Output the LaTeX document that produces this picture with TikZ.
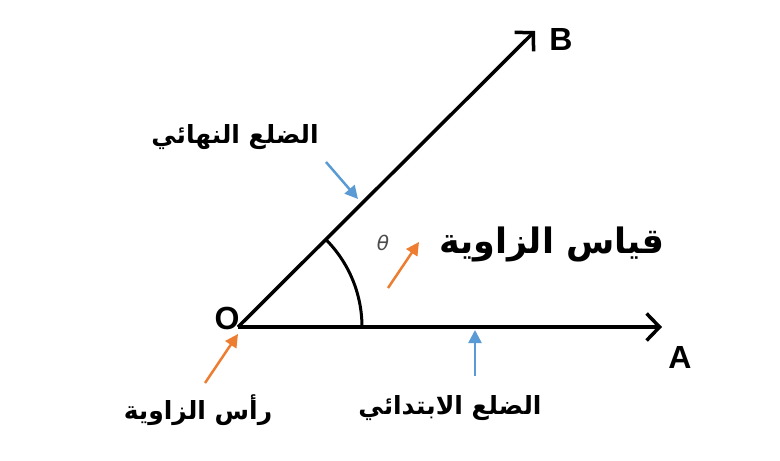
\documentclass[tikz,border=0pt]{standalone}
\usepackage{fontspec}
\setmainfont{Liberation Sans}
\newfontfamily\arabicfont[Script=Arabic]{DejaVu Sans}
\newfontfamily\greekfont{DejaVu Sans}
\TeXXeTstate=1
\usetikzlibrary{arrows.meta}
\definecolor{lblue}{RGB}{91,155,213}
\definecolor{lorange}{RGB}{237,125,49}
\tikzset{
  ray/.style={line width=3.5pt, -{Straight Barb[length=13pt,width=27pt,line width=3.5pt]}},
  bluearrow/.style={lblue, line width=2.5pt, -{Triangle[length=13pt,width=13pt]}},
  orangearrow/.style={lorange, line width=2.5pt, -{Triangle[length=13pt,width=13pt]}},
  letter/.style={font=\fontsize{32}{34}\selectfont\bfseries, inner sep=0pt},
  artext/.style={font=\arabicfont\bfseries\fontsize{25}{28}\selectfont, inner sep=0pt},
}
\begin{document}
\begin{tikzpicture}[x=1pt,y=-1pt]
\useasboundingbox (0,0) rectangle (780,461);
\coordinate (O) at (238,327);
\coordinate (Aend) at (662,327);
\coordinate (Bend) at (535,31);
\draw[ray] (O) -- (Aend);
\draw[ray] (O) -- (Bend);
\draw[line width=3pt] (362,327) arc[start angle=0, end angle=-45, radius=124];
\node[letter] (lO) at (227,318) {O};
\node[letter] (lA) at (680,357) {A};
\node[letter] (lB) at (561,39) {B};
\node[font=\greekfont\itshape\fontsize{20}{24}\selectfont, text=black!70, inner sep=0pt] (th) at (383,243) {θ};
% labels
\node[artext] (term) at (235,137) {\beginR الضلع النهائي\endR};
\node[artext] (init) at (450,408) {\beginR الضلع الابتدائي\endR};
\node[artext] (vert) at (198,410) {\beginR رأس الزاوية\endR};
\node[font=\arabicfont\bfseries\fontsize{35}{40}\selectfont, inner sep=0pt] (meas) at (552,244) {\beginR قياس الزاوية\endR};
% arrows
\coordinate (t1) at (326,162);
\coordinate (t2) at (358,199);
\draw[bluearrow] (t1) -- (t2);
\coordinate (i1) at (475,376);
\coordinate (i2) at (475,330);
\draw[bluearrow] (i1) -- (i2);
\coordinate (v1) at (205,383);
\coordinate (v2) at (238,334);
\draw[orangearrow] (v1) -- (v2);
\coordinate (m1) at (388,288);
\coordinate (m2) at (419,242);
\draw[orangearrow] (m1) -- (m2);
\end{tikzpicture}
\end{document}
